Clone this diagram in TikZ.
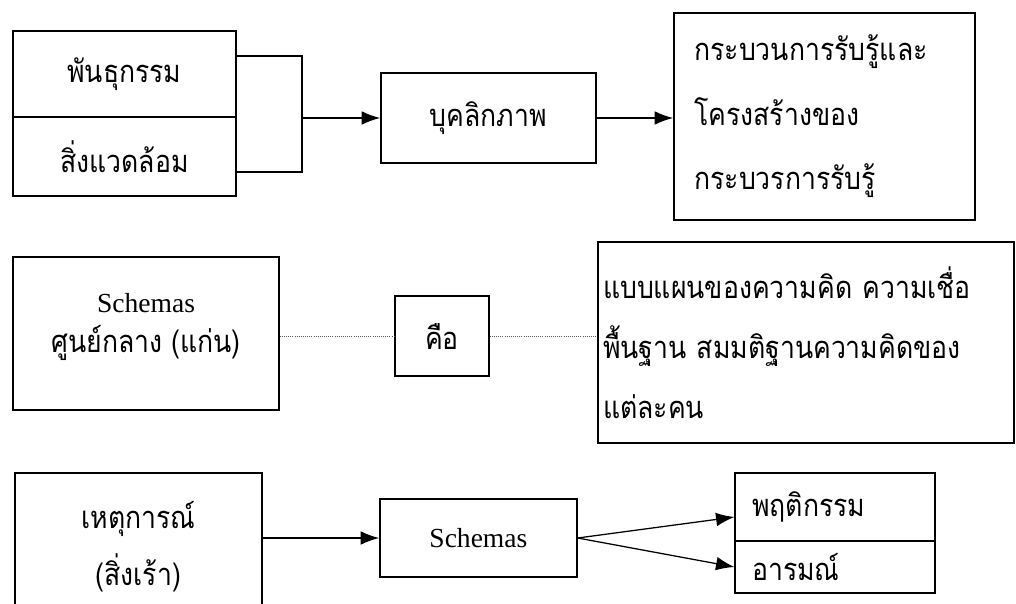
\documentclass[tikz,border=0pt]{standalone}
\usepackage{fontspec}
\setmainfont{Liberation Serif}
\newfontfamily\thai[Script=Thai, FakeStretch=0.86]{Loma}
\usetikzlibrary{arrows.meta}

\tikzset{
	box/.style={draw, line width=1.1pt, inner sep=0pt, font=\thai\fontsize{22}{26}\selectfont},
	leftbox/.style={box, align=left, text width=#1},
	arr/.style={line width=0.9pt, -{Latex[length=4.6mm,width=3.4mm]}},
	dots/.style={densely dotted, line width=0.5pt, gray!70!black}
}

\begin{document}
\begin{tikzpicture}
	\useasboundingbox (0,0) rectangle (25.4,-15.1);

	% heredity and environment
	\node[box, minimum width=5.575cm, minimum height=2.15cm] (gene) at (3.11,-1.85) {พันธุกรรม};
	\node[box, minimum width=5.575cm, minimum height=1.975cm] (env) at (3.11,-3.91) {สิ่งแวดล้อม};
	\coordinate (jt) at (7.55,-1.4);
	\coordinate (jb) at (7.55,-4.3);
	\coordinate (jm) at (7.55,-2.95);
	\draw[line width=0.9pt] (gene.east |- jt) -- (jt) -- (jb) -- (env.east |- jb);

	% personality
	\node[box, minimum width=5.375cm, minimum height=2.25cm] (pers) at (12.21,-2.95) {บุคลิกภาพ};
	\draw[arr] (jm) -- (pers.west);

	% cognition
	\node[leftbox=6.5cm, minimum width=7.525cm, minimum height=5.175cm, font=\thai\fontsize{22}{46}\selectfont] (cog) at (20.61,-2.91)
		{กระบวนการรับรู้และ\\โครงสร้างของ\\กระบวรการรับรู้};
	\draw[arr] (pers.east) -- (pers.east -| cog.west);

	% schemas
	\node[box, align=center, minimum width=6.65cm, minimum height=3.825cm, font=\fontsize{19.6}{28.5}\selectfont] (schemaA) at (3.65,-8.34)
		{Schemas\\{\thai\fontsize{22}{28.5}\selectfont ศูนย์กลาง (แก่น)}\\[-0.45cm]};
	\node[box, minimum width=2.35cm, minimum height=2.0cm] (is) at (11.05,-8.4) {คือ};
	\node[leftbox=10.15cm, minimum width=10.4cm, minimum height=5.025cm, font=\thai\fontsize{22}{42.7}\selectfont] (def) at (20.15,-8.56)
		{แบบแผนของความคิด ความเชื่อ\\พื้นฐาน สมมติฐานความคิดของ\\แต่ละคน};
	\draw[dots] (schemaA.east |- is.west) -- (is.west);
	\draw[dots] (is.east) -- (is.east -| def.west);

	% event
	\node[box, align=center, minimum width=6.175cm, minimum height=3.7cm, font=\thai\fontsize{22}{40.5}\selectfont] (event) at (3.46,-13.675)
		{เหตุการณ์\\(สิ่งเร้า)};
	\node[box, minimum width=4.925cm, minimum height=1.95cm, font=\fontsize{19.6}{23}\selectfont] (schemaB) at (11.96,-13.45) {Schemas};
	\draw[arr] (event.east |- schemaB.west) -- (schemaB.west);

	% outcomes
	\node[leftbox=4.15cm, minimum width=5.0cm, minimum height=1.7cm] (beh) at (20.88,-12.675) {พฤติกรรม};
	\node[leftbox=4.15cm, minimum width=5.0cm, minimum height=1.3cm] (emo) at (20.88,-14.175) {อารมณ์};
	\draw[arr] (schemaB.east) -- ([yshift=-0.25cm]beh.west);
	\draw[arr] (schemaB.east) -- (emo.west);

\end{tikzpicture}
\end{document}
